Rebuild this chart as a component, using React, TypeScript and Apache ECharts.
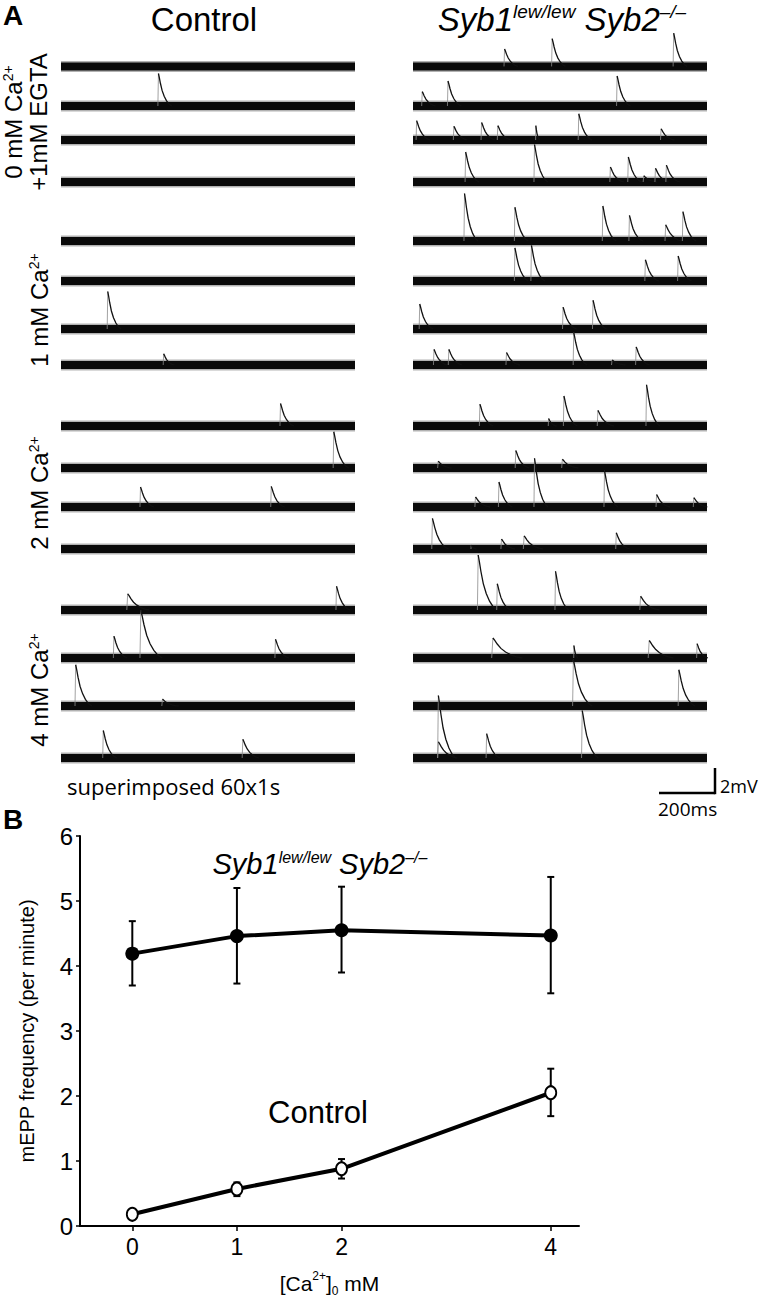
import React, { useEffect, useRef } from 'react';
import * as echarts from 'echarts';

// ---------- Panel B data ----------
const CA_LEVELS = [0, 1, 2, 4];
const X_TICKS = [0, 1, 2, 4];
const SYB_MEAN = [4.19, 4.46, 4.55, 4.47];
const SYB_LOW = [3.7, 3.73, 3.9, 3.58];
const SYB_HIGH = [4.69, 5.2, 5.22, 5.37];
const CTRL_MEAN = [0.18, 0.57, 0.88, 2.05];
const CTRL_LOW = [0.15, 0.46, 0.73, 1.69];
const CTRL_HIGH = [0.21, 0.67, 1.03, 2.42];

// ---------- Panel A data: events [time ms, amplitude mV, duration ms?] per sweep ----------
const CONTROL_EVENTS: number[][][] = [
  [],
  [[346, 2.6]],
  [],
  [],
  [],
  [],
  [[165, 3.0]],
  [[365, 0.9, 40]],
  [[782, 1.8]],
  [[972, 2.9, 55]],
  [[282, 1.6], [749, 1.65]],
  [],
  [[235, 1.3, 80], [982, 1.9]],
  [[187, 1.75], [282, 3.8, 80], [764, 1.5]],
  [[50, 3.3, 60], [360, 0.55, 60]],
  [[149, 2.2], [647, 1.5, 60]],
];
const SYB_EVENTS: number[][][] = [
  [[325, 1.45], [495, 2.3], [929, 2.75]],
  [[31, 1.15], [123, 2.0], [727, 2.4]],
  [[11, 1.55], [144, 1.1], [243, 1.4], [301, 1.15], [438, 1.15, 15], [590, 2.1], [884, 0.9]],
  [[186, 2.4], [432, 3.0], [703, 1.2], [767, 2.0], [822, 0.5], [864, 1.1], [903, 1.35]],
  [[182, 3.8], [362, 2.7], [676, 2.8], [771, 2.05], [900, 1.3, 60], [962, 2.35]],
  [[362, 2.65], [421, 2.85], [828, 1.7], [945, 2.0]],
  [[22, 2.0], [534, 1.75], [641, 2.3]],
  [[73, 1.25], [126, 1.25], [332, 1.0], [572, 2.6], [709, 0.4], [795, 1.45]],
  [[237, 1.75], [483, 0.6, 30], [537, 2.4], [658, 1.25, 60], [832, 3.3]],
  [[88, 0.55, 50], [365, 1.4], [531, 0.7, 60]],
  [[221, 0.8, 55], [305, 2.0], [432, 3.9], [682, 2.9], [868, 1.0, 50], [1001, 0.75]],
  [[67, 2.45, 60], [207, 0.3, 20], [314, 0.8, 50], [394, 1.05, 70], [724, 1.3]],
  [[230, 4.4, 70], [299, 2.1], [507, 3.1], [810, 1.1, 70]],
  [[281, 1.6, 110], [574, 1.0, 15], [840, 1.4, 90], [1013, 1.15, 40]],
  [[570, 3.7, 70], [947, 2.9, 60]],
  [[88, 5.0, 65], [88, 1.3, 70], [261, 1.95], [602, 3.8, 60]],
];
// normalized mEPP waveform template [fraction of duration, fraction of amplitude]
const EVENT_SHAPE = [
  [0, 0], [0.04, 1], [0.1, 0.88], [0.18, 0.7], [0.3, 0.48], [0.45, 0.3], [0.62, 0.16], [0.8, 0.06], [1, 0],
];
const ROW_LABELS = [
  ['0 mM Ca', '+1mM EGTA'],
  ['1 mM Ca'],
  ['2 mM Ca'],
  ['4 mM Ca'],
];

// ---------- layout ----------
const W = 766;
const H = 1298;
const TRACE_MS = 1050;
const DEFAULT_DUR = 50;
const MV_MIN = -1;
const MV_MAX = 5.5;
const PX_PER_MV = 12.5;
const TRACE_W = 294;
const COL_LEFT = [61, 413];
const ROW_BASE = [66, 106, 140, 182, 241, 281, 329, 365, 426, 468, 507, 549, 610, 658, 706, 758];
const LABEL_Y = [122, 310, 493, 690];
const FONT = '"Liberation Sans", Arial, Helvetica, sans-serif';
const FONT2 = '"Open Sans", "Liberation Sans", sans-serif';

function buildOption() {
  const grid: any[] = [];
  const xAxis: any[] = [];
  const yAxis: any[] = [];
  const series: any[] = [];

  [CONTROL_EVENTS, SYB_EVENTS].forEach((cols, ci) => {
    cols.forEach((evs, ri) => {
      const idx = grid.length;
      const base = ROW_BASE[ri];
      grid.push({
        left: COL_LEFT[ci],
        width: TRACE_W,
        top: base - MV_MAX * PX_PER_MV,
        height: (MV_MAX - MV_MIN) * PX_PER_MV,
      });
      xAxis.push({ type: 'value', gridIndex: idx, min: 0, max: TRACE_MS, show: false });
      yAxis.push({ type: 'value', gridIndex: idx, min: MV_MIN, max: MV_MAX, show: false });
      // fuzzy fringe of the superimposed noise band
      series.push({
        type: 'line',
        xAxisIndex: idx,
        yAxisIndex: idx,
        data: [[0, 0], [TRACE_MS, 0]],
        symbol: 'none',
        silent: true,
        z: 1,
        lineStyle: { width: 11, color: 'rgba(0,0,0,0.3)' },
      });
      series.push({
        type: 'line',
        xAxisIndex: idx,
        yAxisIndex: idx,
        data: [[0, 0], [TRACE_MS, 0]],
        symbol: 'none',
        silent: true,
        z: 2,
        lineStyle: { width: 8, color: '#0a0a0a' },
      });
      series.push({
        type: 'custom',
        xAxisIndex: idx,
        yAxisIndex: idx,
        coordinateSystem: 'cartesian2d',
        clip: false,
        silent: true,
        z: 3,
        encode: { x: 0, y: 1 },
        data: evs.map((e) => [e[0], e[1], e[2] ?? DEFAULT_DUR]),
        renderItem: (params: any, api: any) => {
          const t = api.value(0);
          const a = api.value(1);
          const d = api.value(2);
          const pts = EVENT_SHAPE.map(([ft, fa]) => api.coord([t + ft * d, fa * a]));
          return {
            type: 'group',
            children: [
              {
                type: 'polyline',
                shape: { points: pts.slice(0, 2) },
                style: { stroke: '#8a8a8a', lineWidth: 0.8, fill: null },
              },
              {
                type: 'polyline',
                shape: { points: pts.slice(1) },
                style: { stroke: '#111', lineWidth: 1.3, fill: null },
              },
            ],
          };
        },
      });
    });
  });

  // ---------- Panel B ----------
  const bi = grid.length;
  grid.push({ left: 80, top: 836, width: 499, height: 395 });
  xAxis.push({
    type: 'value',
    gridIndex: bi,
    min: -0.5,
    max: 4.27,
    name: '{b|[Ca}{sup|2+}{b|]}{sub|0}{b| mM}',
    nameLocation: 'middle',
    nameGap: 44,
    nameTextStyle: {
      rich: {
        b: { fontSize: 21, fontFamily: FONT, color: '#000', lineHeight: 27 },
        sup: { fontSize: 12, fontFamily: FONT, color: '#000', verticalAlign: 'top', lineHeight: 14 },
        sub: { fontSize: 12, fontFamily: FONT, color: '#000', verticalAlign: 'bottom', lineHeight: 14 },
      },
    },
    axisLine: { show: true, onZero: false, lineStyle: { color: '#000', width: 2 } },
    axisTick: { show: true, customValues: X_TICKS, length: 5, lineStyle: { color: '#000', width: 1.5 } },
    axisLabel: { customValues: X_TICKS, fontSize: 23, fontFamily: FONT, color: '#000', margin: 9 },
    splitLine: { show: false },
  });
  yAxis.push({
    type: 'value',
    gridIndex: bi,
    min: 0,
    max: 6,
    interval: 1,
    name: 'mEPP frequency (per minute)',
    nameLocation: 'middle',
    nameRotate: 90,
    nameGap: 43,
    nameTextStyle: { fontSize: 20, fontFamily: FONT, color: '#000' },
    axisLine: { show: true, onZero: false, lineStyle: { color: '#000', width: 2 } },
    axisTick: { show: true, length: 4, lineStyle: { color: '#000', width: 1.5 } },
    axisLabel: { fontSize: 24, fontFamily: FONT, color: '#000', margin: 7 },
    splitLine: { show: false },
  });

  const errSeries = (low: number[], high: number[]) => ({
    type: 'custom',
    xAxisIndex: bi,
    yAxisIndex: bi,
    coordinateSystem: 'cartesian2d',
    silent: true,
    z: 2,
    encode: { x: 0, y: [1, 2] },
    data: CA_LEVELS.map((c, i) => [c, low[i], high[i]]),
    renderItem: (params: any, api: any) => {
      const lo = api.coord([api.value(0), api.value(1)]);
      const hi = api.coord([api.value(0), api.value(2)]);
      const cw = 3.5;
      const st = { stroke: '#000', lineWidth: 2 };
      return {
        type: 'group',
        children: [
          { type: 'line', shape: { x1: lo[0], y1: lo[1], x2: hi[0], y2: hi[1] }, style: st },
          { type: 'line', shape: { x1: lo[0] - cw, y1: lo[1], x2: lo[0] + cw, y2: lo[1] }, style: st },
          { type: 'line', shape: { x1: hi[0] - cw, y1: hi[1], x2: hi[0] + cw, y2: hi[1] }, style: st },
        ],
      };
    },
  });
  series.push(errSeries(SYB_LOW, SYB_HIGH));
  series.push(errSeries(CTRL_LOW, CTRL_HIGH));
  series.push({
    type: 'line',
    name: 'Syb',
    xAxisIndex: bi,
    yAxisIndex: bi,
    data: CA_LEVELS.map((c, i) => [c, SYB_MEAN[i]]),
    symbol: 'circle',
    symbolSize: 14,
    z: 4,
    lineStyle: { color: '#000', width: 4 },
    itemStyle: { color: '#000' },
  });
  series.push({
    type: 'line',
    name: 'Control',
    xAxisIndex: bi,
    yAxisIndex: bi,
    data: CA_LEVELS.map((c, i) => [c, CTRL_MEAN[i]]),
    symbol: 'circle',
    symbolSize: [11, 13],
    showAllSymbol: true,
    z: 4,
    lineStyle: { color: '#000', width: 4 },
    itemStyle: { color: '#fff', borderColor: '#000', borderWidth: 2 },
  });

  // ---------- graphic texts ----------
  const supRich = (size: number, supSize: number, italic: boolean) => ({
    b: { fontSize: size, fontFamily: FONT, fontStyle: italic ? 'italic' : 'normal', fill: '#000', lineHeight: size + 1 },
    s: {
      fontSize: supSize,
      fontFamily: FONT,
      fontStyle: italic ? 'italic' : 'normal',
      fill: '#000',
      verticalAlign: 'top',
      lineHeight: supSize + 1,
    },
  });

  const graphic: any[] = [
    { type: 'text', left: 3, top: 1, style: { text: 'A', font: `bold 28px ${FONT}`, fill: '#000' } },
    {
      type: 'text',
      x: 204,
      y: 19,
      style: { text: 'Control', font: `33px ${FONT}`, fill: '#000', align: 'center', verticalAlign: 'middle' },
    },
    {
      type: 'text',
      x: 562,
      y: 19,
      style: {
        text: '{b|Syb1}{s|lew/lew}{b| Syb2}{s|\u2013/\u2013}',
        rich: supRich(33, 19, true),
        align: 'center',
        verticalAlign: 'middle',
      },
    },
    {
      type: 'text',
      x: 67,
      y: 786,
      style: { text: 'superimposed 60x1s', font: `22px ${FONT2}`, fill: '#000', align: 'left', verticalAlign: 'middle' },
    },
    { type: 'text', left: 3, top: 805, style: { text: 'B', font: `bold 28px ${FONT}`, fill: '#000' } },
    {
      type: 'text',
      x: 320,
      y: 864,
      style: {
        text: '{b|Syb1}{s|lew/lew}{b| Syb2}{s|\u2013/\u2013}',
        rich: supRich(29, 16, true),
        align: 'center',
        verticalAlign: 'middle',
      },
    },
    {
      type: 'text',
      x: 318,
      y: 1112,
      style: { text: 'Control', font: `31px ${FONT}`, fill: '#000', align: 'center', verticalAlign: 'middle' },
    },
  ];

  // scale bar (200 ms, 2 mV) derived from trace scales
  const barW = (200 / TRACE_MS) * TRACE_W;
  const barH = 2 * PX_PER_MV;
  const bx = 715;
  const by = 793;
  graphic.push(
    { type: 'line', shape: { x1: bx - barW, y1: by, x2: bx, y2: by }, style: { stroke: '#000', lineWidth: 2.5 } },
    { type: 'line', shape: { x1: bx, y1: by + 1.2, x2: bx, y2: by - barH }, style: { stroke: '#000', lineWidth: 2.5 } },
    {
      type: 'text',
      x: bx + 5,
      y: by - 7,
      style: { text: '2mV', font: `18px ${FONT2}`, fill: '#000', align: 'left', verticalAlign: 'middle' },
    },
    {
      type: 'text',
      x: bx - barW - 1,
      y: by + 16,
      style: { text: '200ms', font: `19px ${FONT2}`, fill: '#000', align: 'left', verticalAlign: 'middle' },
    },
  );

  // rotated condition labels
  ROW_LABELS.forEach((lines, gi) => {
    lines.forEach((ln, li) => {
      const isCa = ln.endsWith('Ca');
      const x = lines.length === 2 ? (li === 0 ? 13 : 38) : 39;
      graphic.push({
        type: 'text',
        x,
        y: LABEL_Y[gi],
        rotation: Math.PI / 2,
        style: {
          text: isCa ? `{b|${ln}}{s|2+}` : `{b|${ln}}`,
          rich: supRich(24, 14, false),
          align: 'center',
          verticalAlign: 'middle',
        },
      });
    });
  });

  return {
    animation: false,
    backgroundColor: '#fff',
    grid,
    xAxis,
    yAxis,
    series,
    graphic,
  };
}

export default function App() {
  const ref = useRef<HTMLDivElement>(null);
  useEffect(() => {
    if (!ref.current) return;
    const chart = echarts.init(ref.current, null, { renderer: 'svg', width: W, height: H });
    chart.setOption(buildOption() as any);
    return () => chart.dispose();
  }, []);
  return <div ref={ref} style={{ position: 'absolute', left: 0, top: 0, width: W, height: H }} />;
}
